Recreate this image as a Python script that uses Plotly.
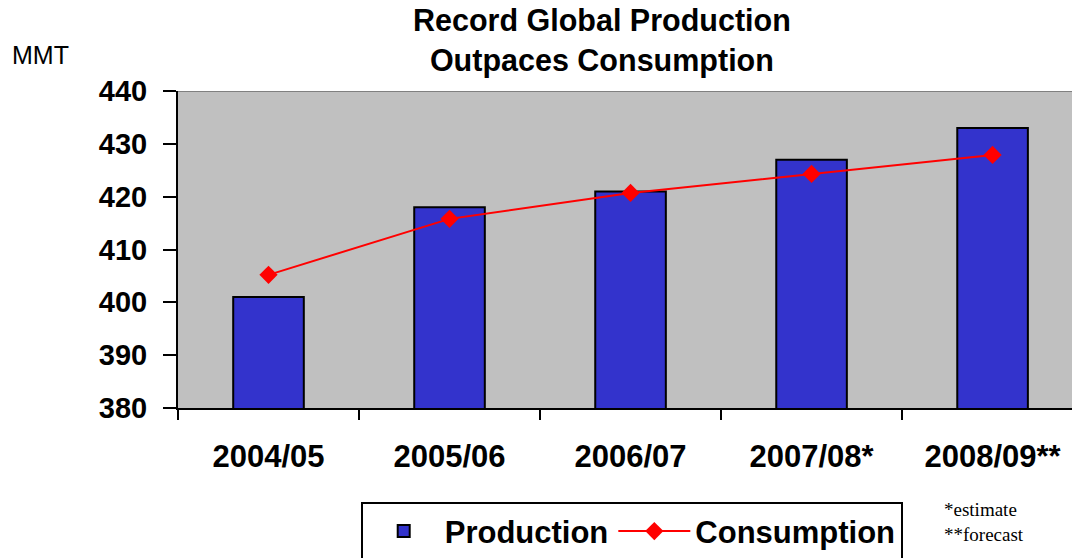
import plotly.graph_objects as go

seasons = ['2004/05', '2005/06', '2006/07', '2007/08*', '2008/09**']
production = [401, 418, 421, 427, 433]
consumption = [405.2, 415.8, 420.7, 424.3, 427.9]

fig = go.Figure()
fig.add_trace(go.Bar(
    x=seasons,
    y=production,
    name='<b>Production</b>',
    width=0.39,
    marker=dict(color='#3333CC', line=dict(color='black', width=2)),
))
fig.add_trace(go.Scatter(
    x=seasons,
    y=consumption,
    name='<b>Consumption</b>',
    mode='lines+markers',
    line=dict(color='#FF0000', width=2),
    marker=dict(symbol='diamond', size=14, color='#FF0000'),
))

# thin gray border along the top of the plot area
fig.add_shape(type='line', xref='paper', yref='y', x0=0, x1=1, y0=440, y1=440,
              line=dict(color='#808080', width=2))

fig.add_annotation(text='MMT', xref='paper', yref='paper', x=-0.186, y=1.113,
                   xanchor='left', yanchor='middle', showarrow=False,
                   font=dict(family='Liberation Sans', size=25, color='black'))
fig.add_annotation(text='*estimate<br>**forecast', xref='paper', yref='paper',
                   x=0.847, y=-0.28, xanchor='left', yanchor='top', showarrow=False,
                   align='left',
                   font=dict(family='Liberation Serif', size=19, color='black'))

# page is drawn with an 8px body margin, so the figure is 8px smaller each way
fig.update_layout(
    width=1072,
    height=550,
    margin=dict(l=170, r=0, t=83, b=150),
    paper_bgcolor='white',
    plot_bgcolor='#C0C0C0',
    font=dict(family='Liberation Sans', color='black'),
    title=dict(text='<b>Record Global Production<br>Outpaces Consumption</b>',
               x=0.554, xanchor='center', y=0.958, yanchor='top',
               font=dict(size=30.5, color='black')),
    showlegend=True,
    legend=dict(orientation='h', x=0.503, xanchor='center',
                yref='container', y=0.101, yanchor='top',
                bordercolor='black', borderwidth=2, bgcolor='white',
                font=dict(size=31, color='black', family='Liberation Sans'),
                itemwidth=72),
    xaxis=dict(range=[-0.5, 4.483], showline=True, linecolor='black', linewidth=2,
               ticks='outside', tickson='boundaries', ticklen=10, tickwidth=2,
               tickcolor='black', showgrid=False, ticklabelstandoff=20,
               tickfont=dict(size=31, family='Liberation Sans'),
               tickprefix='<b>', ticksuffix='</b>'),
    yaxis=dict(range=[380, 440], dtick=10, showline=True, linecolor='black', linewidth=2,
               ticks='outside', ticklen=13, tickwidth=2, tickcolor='black',
               showgrid=False, zeroline=False, ticklabelstandoff=10,
               tickfont=dict(size=29, family='Liberation Sans'),
               tickprefix='<b>', ticksuffix='</b>'),
)

fig.write_html('out.html')
